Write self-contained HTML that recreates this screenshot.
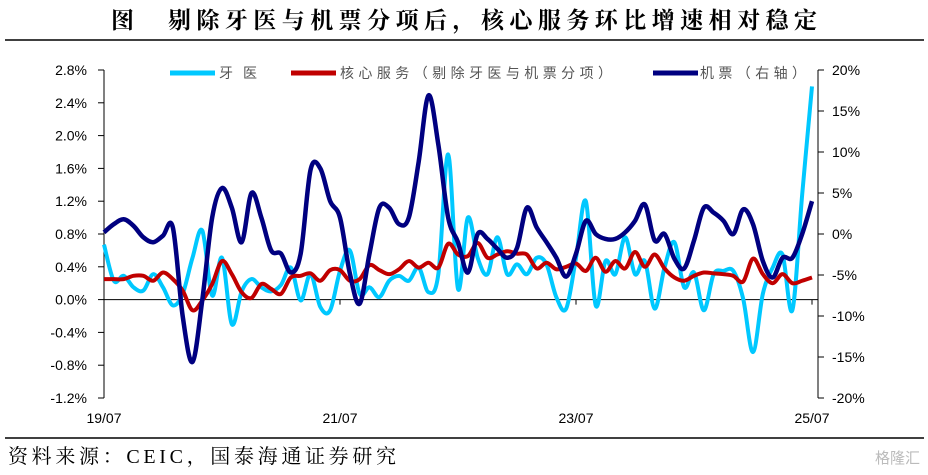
<!DOCTYPE html>
<html><head><meta charset="utf-8">
<style>
html,body{margin:0;padding:0;background:#fff;}
body{width:928px;height:475px;overflow:hidden;position:relative;}
svg{position:absolute;left:0;top:0;}
</style></head>
<body>
<svg id="chart" width="928" height="475" viewBox="0 0 928 475">
<text x="111" y="28" textLength="706" lengthAdjust="spacing" font-family="'Liberation Serif','Noto Serif CJK SC',serif" font-weight="bold" font-size="23" fill="#000">图　剔除牙医与机票分项后，核心服务环比增速相对稳定</text>
<line x1="5" y1="40" x2="924" y2="40" stroke="#000" stroke-width="1.5"/>
<line x1="5" y1="438" x2="924" y2="438" stroke="#000" stroke-width="1.5"/>
<text x="8" y="463" textLength="388" lengthAdjust="spacing" font-family="'Liberation Serif','Noto Serif CJK SC',serif" font-size="20" fill="#000">资料来源：CEIC，国泰海通证券研究</text>
<text x="920" y="463" text-anchor="end" font-family="'Liberation Sans','Noto Sans CJK SC',sans-serif" font-size="15" fill="#bbb">格隆汇</text>
<g id="axes"></g>
<g id="series"></g>
<g id="legend" font-family="'Liberation Sans','Noto Sans CJK SC',sans-serif" font-size="14" fill="#555">
<line x1="170" y1="73" x2="215" y2="73" stroke="#00C8FF" stroke-width="5"/>
<text x="219" y="78" textLength="38" lengthAdjust="spacing">牙医</text>
<line x1="291" y1="73" x2="336" y2="73" stroke="#C00000" stroke-width="5"/>
<text x="340" y="78" textLength="272" lengthAdjust="spacing">核心服务（剔除牙医与机票分项）</text>
<line x1="653" y1="73" x2="698" y2="73" stroke="#000080" stroke-width="5"/>
<text x="700" y="78" textLength="106" lengthAdjust="spacing">机票（右轴）</text>
</g>
</svg>
<script>
const xLabels = ["19/07","21/07","23/07","25/07"];
const leftTicks = [2.8,2.4,2.0,1.6,1.2,0.8,0.4,0.0,-0.4,-0.8,-1.2];
const rightTicks = [20,15,10,5,0,-5,-10,-15,-20];
const dental = [0.67,0.23,0.29,0.15,0.11,0.31,0.15,-0.07,0.07,0.51,0.84,0.05,0.51,-0.3,0.1,0.25,0.15,0.1,0.18,0.39,-0.01,0.31,-0.09,-0.13,0.35,0.6,0.07,0.15,0.03,0.23,0.29,0.23,0.39,0.09,0.31,1.77,0.13,1.0,0.51,0.31,0.76,0.31,0.43,0.31,0.51,0.43,0.03,-0.11,0.51,1.2,-0.07,0.47,0.31,0.76,0.31,0.47,-0.11,0.39,0.7,0.15,0.33,-0.13,0.31,0.35,0.35,0.01,-0.64,0.07,0.39,0.55,-0.13,1.28,2.6];
const core = [0.25,0.25,0.25,0.29,0.29,0.23,0.33,0.25,0.11,-0.13,-0.01,0.19,0.47,0.31,0.09,0.02,0.19,0.13,0.07,0.27,0.29,0.32,0.23,0.36,0.36,0.23,0.25,0.42,0.36,0.31,0.37,0.47,0.39,0.45,0.39,0.68,0.55,0.53,0.69,0.51,0.55,0.59,0.56,0.55,0.38,0.45,0.37,0.4,0.44,0.35,0.51,0.34,0.47,0.38,0.58,0.4,0.55,0.38,0.27,0.23,0.29,0.33,0.32,0.31,0.29,0.22,0.5,0.31,0.2,0.31,0.2,0.23,0.27];
const airfare = [0.2,1.2,1.8,1.0,-0.4,-1.0,-0.2,0.8,-10,-15.6,-8,2.0,5.6,3.2,-1.0,5.0,2.0,-2.0,-2.4,-4.7,-2.4,7.8,8.0,4.0,2.0,-4.8,-8.5,-2.4,3.2,3.2,1.2,2.0,8.8,16.9,10.9,2.0,-1.0,-4.7,0,-0.6,-1.8,-2.9,-1.7,3.2,0.8,-1.0,-2.9,-5.2,-2.4,1.6,0,-0.6,-0.6,0.2,1.6,3.6,-0.8,0,-3.0,-4.2,-0.8,3.2,2.6,1.6,0,3.0,1.2,-3.3,-5.3,-2.9,-2.9,0,4.0];

const NS="http://www.w3.org/2000/svg";
const X0=104, X1=812, YT=70, YB=398;
const n=dental.length;
function xs(i){return X0+(X1-X0)*i/(n-1);}
function yl(v){return YB-(v+1.2)/4.0*(YB-YT);}
function yr(v){return YB-(v+20)/40*(YB-YT);}
function mk(tag,attrs,parent){const e=document.createElementNS(NS,tag);for(const k in attrs)e.setAttribute(k,attrs[k]);parent.appendChild(e);return e;}
const ax=document.getElementById('axes');
const font="'Liberation Sans',sans-serif";
let e;
e=mk('line',{x1:X0,y1:YT,x2:X0,y2:YB,stroke:'#000','stroke-width':1},ax);


e=mk('line',{x1:818,y1:YT,x2:818,y2:YB,stroke:'#000','stroke-width':1},ax);


e=mk('line',{x1:X0,y1:yl(0),x2:818,y2:yl(0),stroke:'#000','stroke-width':1},ax);


leftTicks.forEach(v=>{
  const y=yl(v);
  mk('line',{x1:X0-6,y1:y,x2:X0,y2:y,stroke:'#000'},ax);
  e=mk('text',{x:87,y:y+5,'text-anchor':'end','font-family':font,'font-size':14,fill:'#000'},ax);
  e.textContent=v.toFixed(1)+'%';
  
  
});
rightTicks.forEach(v=>{
  const y=yr(v);
  mk('line',{x1:818,y1:y,x2:824,y2:y,stroke:'#000'},ax);
  e=mk('text',{x:832,y:y+5,'font-family':font,'font-size':14,fill:'#000'},ax);
  e.textContent=v+'%';
  
  
});
xLabels.forEach((t,k)=>{
  const x=xs(k*24);
  mk('line',{x1:x,y1:yl(0),x2:x,y2:yl(0)+5,stroke:'#000'},ax);
  e=mk('text',{x:x,y:423,'text-anchor':'middle','font-family':font,'font-size':14,fill:'#000'},ax);
  e.textContent=t;
  
  
});
function path(vals,yf){
  const p=vals.map((v,i)=>[xs(i),yf(v)]);
  let d='M'+p[0][0]+','+p[0][1];
  for(let i=0;i<p.length-1;i++){
    const p0=p[Math.max(i-1,0)],p1=p[i],p2=p[i+1],p3=p[Math.min(i+2,p.length-1)];
    const c1=[p1[0]+(p2[0]-p0[0])/6,p1[1]+(p2[1]-p0[1])/6];
    const c2=[p2[0]-(p3[0]-p1[0])/6,p2[1]-(p3[1]-p1[1])/6];
    d+=' C'+c1[0]+','+c1[1]+' '+c2[0]+','+c2[1]+' '+p2[0]+','+p2[1];
  }
  return d;
}
const sg=document.getElementById('series');
e=mk('path',{d:path(dental,yl),fill:'none',stroke:'#00C8FF','stroke-width':4,'stroke-linejoin':'round'},sg);


e=mk('path',{d:path(core,yl),fill:'none',stroke:'#C00000','stroke-width':4,'stroke-linejoin':'round'},sg);


e=mk('path',{d:path(airfare,yr),fill:'none',stroke:'#000080','stroke-width':4.5,'stroke-linejoin':'round'},sg);


</script>
</body></html>
